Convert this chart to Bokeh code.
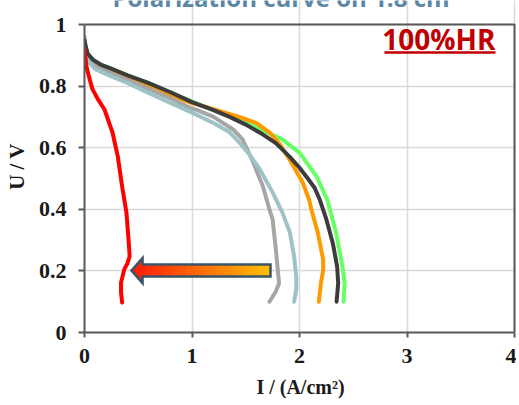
import numpy as np
from bokeh.plotting import figure
from bokeh.models import Range1d, FixedTicker
from bokeh.core.properties import value
from bokeh.embed import file_html
from bokeh.resources import INLINE

TITLE = "Polarization curve on 1.8 cm²"
RH_LABEL = "100%HR"
X_LABEL = "I / (A/cm²)"
Y_LABEL = "U / V"
X_TICKS = [0, 1, 2, 3, 4]
Y_TICKS = [0, 0.2, 0.4, 0.6, 0.8, 1]

# --- curves: current density I (A/cm2), voltage U (V) ---
green_I = [0, 0.01, 0.03, 0.08, 0.15, 0.26, 0.4, 0.58, 0.8, 1.0, 1.2, 1.4, 1.6, 1.84, 2.0, 2.16, 2.26, 2.34, 2.40, 2.42, 2.41]
green_U = [0.95, 0.93, 0.905, 0.885, 0.87, 0.855, 0.835, 0.812, 0.78, 0.75, 0.722, 0.695, 0.665, 0.627, 0.584, 0.506, 0.43, 0.325, 0.214, 0.16, 0.10]

orange_I = [0, 0.01, 0.03, 0.08, 0.15, 0.26, 0.4, 0.58, 0.8, 1.0, 1.2, 1.44, 1.6, 1.72, 1.82, 1.91, 2.03, 2.09, 2.11, 2.17, 2.22, 2.22, 2.20, 2.18]
orange_U = [0.93, 0.91, 0.89, 0.87, 0.858, 0.845, 0.825, 0.80, 0.77, 0.745, 0.725, 0.70, 0.68, 0.65, 0.61, 0.56, 0.487, 0.43, 0.40, 0.325, 0.237, 0.20, 0.162, 0.10]

gray_I = [0, 0.01, 0.03, 0.08, 0.15, 0.26, 0.4, 0.6, 0.8, 0.95, 1.0, 1.05, 1.2, 1.38, 1.47, 1.56, 1.63, 1.66, 1.72, 1.75, 1.78, 1.81, 1.78, 1.72]
gray_U = [0.96, 0.92, 0.895, 0.875, 0.86, 0.84, 0.82, 0.79, 0.76, 0.735, 0.728, 0.722, 0.70, 0.66, 0.627, 0.56, 0.50, 0.474, 0.40, 0.367, 0.27, 0.16, 0.133, 0.10]

blue_I = [0, 0.005, 0.02, 0.047, 0.1, 0.26, 0.4, 0.58, 0.8, 1.0, 1.2, 1.35, 1.44, 1.53, 1.63, 1.75, 1.84, 1.91, 1.95, 1.97, 1.97, 1.95]
blue_U = [0.94, 0.91, 0.89, 0.875, 0.855, 0.83, 0.81, 0.78, 0.745, 0.714, 0.68, 0.65, 0.617, 0.58, 0.53, 0.455, 0.39, 0.325, 0.247, 0.18, 0.14, 0.10]

dark_I = [0, 0.01, 0.03, 0.08, 0.15, 0.26, 0.4, 0.58, 0.8, 1.0, 1.2, 1.35, 1.5, 1.65, 1.78, 1.91, 2.0, 2.07, 2.14, 2.19, 2.25, 2.31, 2.35, 2.36, 2.345]
dark_U = [0.95, 0.93, 0.905, 0.885, 0.87, 0.855, 0.835, 0.812, 0.78, 0.748, 0.722, 0.70, 0.675, 0.645, 0.615, 0.57, 0.535, 0.503, 0.47, 0.43, 0.367, 0.29, 0.214, 0.16, 0.10]

red_I = [0, 0.006, 0.02, 0.05, 0.074, 0.12, 0.186, 0.26, 0.31, 0.35, 0.39, 0.41, 0.42, 0.40, 0.37, 0.34, 0.34, 0.35]
red_U = [0.92, 0.90, 0.86, 0.82, 0.79, 0.76, 0.724, 0.65, 0.571, 0.474, 0.39, 0.30, 0.247, 0.225, 0.205, 0.162, 0.13, 0.097]

# arrow annotation (data coords)
ARROW_TAIL_I = 1.73
ARROW_TIP_I = 0.437
ARROW_HEAD_BASE_I = 0.54
ARROW_U = 0.201

# layout (pixels)
PX_PER_U = 308.0
PX_PER_I = 107.5
TOP_PAD = 24          # space above U=1 inside the frame (title sliver lives here)
RIGHT_PAD = 2

x_max = X_TICKS[-1]
y_max = Y_TICKS[-1]

p = figure(frame_width=int(x_max * PX_PER_I) + RIGHT_PAD, frame_height=int(PX_PER_U) + TOP_PAD,
           output_backend="svg", toolbar_location=None,
           x_range=Range1d(0, x_max + RIGHT_PAD / PX_PER_I),
           y_range=Range1d(0, y_max + TOP_PAD / PX_PER_U),
           min_border_left=84, min_border_right=0, min_border_top=0, min_border_bottom=68)
p.background_fill_color = "white"
p.border_fill_color = "white"
p.outline_line_color = None

for ax in (p.xaxis, p.yaxis):
    ax.axis_line_color = "#595959"
    ax.axis_line_width = 2
    ax.major_tick_line_color = "#595959"
    ax.major_tick_line_width = 2
    ax.major_tick_in = 0
    ax.minor_tick_line_color = None
    ax.major_label_text_font = "Liberation Serif"
    ax.major_label_text_font_style = "bold"
    ax.major_label_text_font_size = "22px"
    ax.major_label_text_color = "#1a1a1a"
    ax.axis_label_text_font = "Liberation Serif"
    ax.axis_label_text_font_style = "bold"
    ax.axis_label_text_color = "#1a1a1a"

p.xaxis.axis_label_text_font_size = "20px"
p.yaxis.axis_label_text_font_size = "21px"
p.xaxis.bounds = (0, x_max)
p.yaxis.bounds = (0, y_max)
p.xaxis.ticker = FixedTicker(ticks=X_TICKS)
p.yaxis.ticker = FixedTicker(ticks=Y_TICKS)
p.yaxis.major_label_overrides = {t: ("%g" % t) for t in Y_TICKS}
p.xaxis.major_label_overrides = {t: ("%g" % t) for t in X_TICKS}
p.xaxis.major_tick_out = 5
p.yaxis.major_tick_out = 6
p.xaxis.major_label_standoff = 11
p.yaxis.major_label_standoff = 12
p.xaxis.axis_label = X_LABEL
p.yaxis.axis_label = Y_LABEL
p.xaxis.axis_label_standoff = 10
p.yaxis.axis_label_standoff = 7

p.xgrid.grid_line_color = "#d9d9d9"
p.ygrid.grid_line_color = "#d9d9d9"
p.xgrid.grid_line_width = 1.5
p.ygrid.grid_line_width = 1.5
p.xgrid.bounds = (0, y_max)
p.ygrid.bounds = (0, x_max)

# top and right borders of the plot area
p.line([0, x_max, x_max], [y_max, y_max, 0], line_color="#595959", line_width=2)

series = [
    (green_I, green_U, "#66ff66"),
    (orange_I, orange_U, "#ff9900"),
    (gray_I, gray_U, "#a6a6a6"),
    (blue_I, blue_U, "#9dc3c6"),
    (dark_I, dark_U, "#3c3c3c"),
    (red_I, red_U, "#ff0000"),
]
for xs, ys, c in series:
    p.line(xs, ys, line_color=c, line_width=4, line_join="round", line_cap="round")

# gradient arrow
shaft_h = 6 / PX_PER_U
head_h = 12.5 / PX_PER_U

def lerp_color(t):
    c0 = np.array([255, 20, 0])
    c1 = np.array([255, 192, 0])
    c = c0 + (c1 - c0) * t
    return "#%02x%02x%02x" % tuple(int(round(v)) for v in c)

def half_h(x):
    if x <= ARROW_HEAD_BASE_I:
        return head_h * (x - ARROW_TIP_I) / (ARROW_HEAD_BASE_I - ARROW_TIP_I)
    return shaft_h

N = 80
edges = np.linspace(ARROW_TIP_I, ARROW_TAIL_I, N + 1)
xs_list, ys_list, cols = [], [], []
for i in range(N):
    a, b = edges[i], edges[i + 1]
    if a < ARROW_HEAD_BASE_I < b:
        xs_poly = [a, ARROW_HEAD_BASE_I, ARROW_HEAD_BASE_I, b, b, ARROW_HEAD_BASE_I, ARROW_HEAD_BASE_I, a]
        ys_poly = [ARROW_U + half_h(a), ARROW_U + head_h, ARROW_U + shaft_h, ARROW_U + shaft_h,
                   ARROW_U - shaft_h, ARROW_U - shaft_h, ARROW_U - head_h, ARROW_U - half_h(a)]
    else:
        xs_poly = [a, b, b, a]
        ys_poly = [ARROW_U + half_h(a), ARROW_U + half_h(b), ARROW_U - half_h(b), ARROW_U - half_h(a)]
    xs_list.append(xs_poly)
    ys_list.append(ys_poly)
    cols.append(lerp_color((0.5 * (a + b) - ARROW_TIP_I) / (ARROW_TAIL_I - ARROW_TIP_I)))
p.patches(xs_list, ys_list, fill_color=cols, line_color=cols, line_width=0.6)

outline_x = [ARROW_TIP_I, ARROW_HEAD_BASE_I, ARROW_HEAD_BASE_I, ARROW_TAIL_I, ARROW_TAIL_I,
             ARROW_HEAD_BASE_I, ARROW_HEAD_BASE_I, ARROW_TIP_I]
outline_y = [ARROW_U, ARROW_U + head_h, ARROW_U + shaft_h, ARROW_U + shaft_h, ARROW_U - shaft_h,
             ARROW_U - shaft_h, ARROW_U - head_h, ARROW_U]
p.patch(outline_x, outline_y, fill_color=None, line_color="#3b5366", line_width=2.5, line_join="miter")

# 100%HR label with underline
RH_X_RIGHT = 3.823
RH_X_LEFT = 2.79
RH_MID_U = y_max - 14 / PX_PER_U
RH_LINE_U = y_max - 28 / PX_PER_U
p.text(x=[RH_X_RIGHT], y=[RH_MID_U], text=[RH_LABEL], text_align="right", text_baseline="alphabetic",
       text_font=value("Open Sans"), text_font_style="bold", text_font_size=value("28px"),
       text_color="#c00000")
p.segment(x0=[RH_X_LEFT], y0=[RH_LINE_U], x1=[RH_X_RIGHT], y1=[RH_LINE_U],
          line_color="#c00000", line_width=2.5)

# title, cut off at the top of the page as in the original
p.text(x=[1.87], y=[y_max + 23.5 / PX_PER_U], text=[TITLE], text_align="center", text_baseline="alphabetic",
       y_offset=-4,
       text_font=value("Open Sans"), text_font_style="bold", text_font_size=value("24px"),
       text_color="#5b87a6")

open("out.html", "w").write(file_html(p, INLINE))
